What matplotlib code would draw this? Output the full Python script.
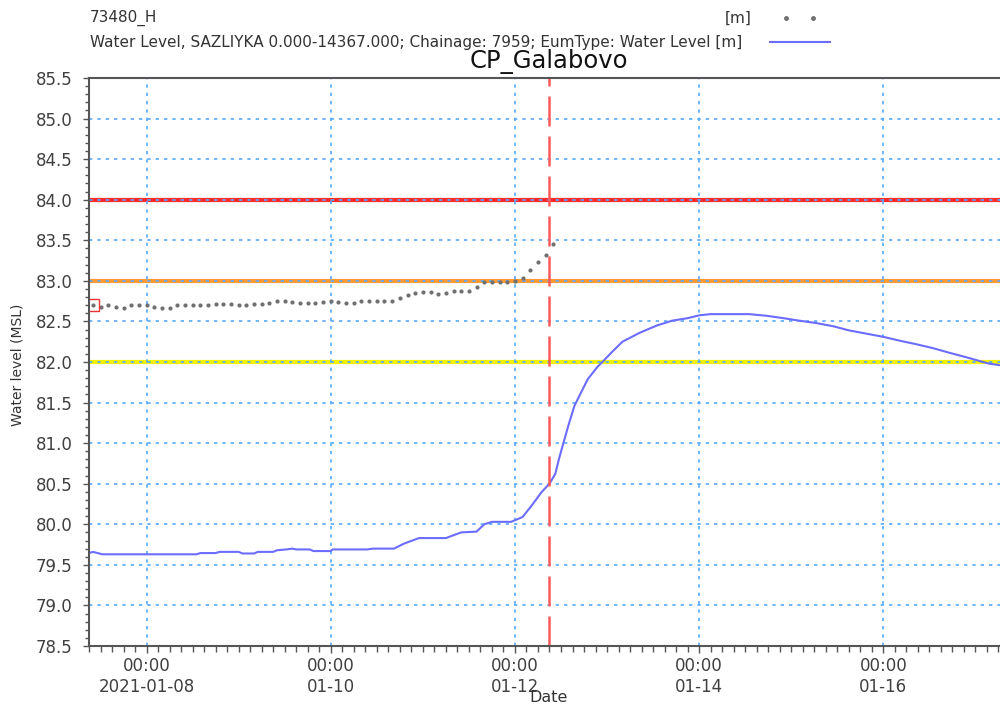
import pandas as pd
import matplotlib
matplotlib.use("Agg")
from matplotlib import pyplot as plt
from matplotlib.lines import Line2D
from matplotlib.ticker import MultipleLocator, FormatStrFormatter
import matplotlib.dates as mdates

plt.rcParams['font.family'] = ['DejaVu Sans']

# observed levels at 73480_H, one value every 2 hours
obs_start = "2021-01-07 10:00"
obs_level = [82.70, 82.68, 82.70, 82.68, 82.67, 82.70, 82.70, 82.70, 82.68, 82.67,
             82.67, 82.70, 82.70, 82.70, 82.70, 82.70, 82.72, 82.72, 82.72, 82.70,
             82.70, 82.71, 82.72, 82.73, 82.75, 82.75, 82.74, 82.73, 82.73, 82.73,
             82.74, 82.75, 82.74, 82.73, 82.73, 82.75, 82.75, 82.75, 82.75, 82.75,
             82.79, 82.82, 82.85, 82.86, 82.86, 82.84, 82.85, 82.87, 82.88, 82.88,
             82.93, 82.98, 82.98, 82.98, 82.98, 83.00, 83.04, 83.13, 83.23, 83.32,
             83.45]

# simulated water level, hours after 2021-01-08 00:00
sim_base = "2021-01-08 00:00"
sim_hours = [-15, -14, -11.5, 0, 13, 14, 18, 19, 24, 25,
             28, 29, 33, 34, 36.5, 38, 39, 42.5, 43.5, 48,
             48.5, 57.5, 59, 64.5, 67, 71, 78, 82, 86, 88,
             90, 95, 98, 100.5, 103, 105, 106.5, 107.5, 108.5, 110,
             111.5, 113.5, 115, 117.5, 119, 121, 124, 128.5, 133, 137,
             141, 144, 147, 152, 157, 161.5, 166, 170, 174.5, 179,
             183, 187.5, 192, 196.5, 200.5, 205, 209.5, 213.5, 216.5, 219.5,
             222.5]
sim_level = [79.645, 79.66, 79.63, 79.63, 79.63, 79.645, 79.645, 79.66, 79.66, 79.64,
             79.64, 79.66, 79.66, 79.68, 79.69, 79.70, 79.69, 79.69, 79.67, 79.67,
             79.69, 79.69, 79.70, 79.70, 79.76, 79.83, 79.83, 79.90, 79.91, 80.00,
             80.03, 80.03, 80.09, 80.24, 80.40, 80.50, 80.62, 80.81, 80.98, 81.23,
             81.46, 81.65, 81.79, 81.94, 82.01, 82.11, 82.25, 82.36, 82.45, 82.51,
             82.54, 82.575, 82.59, 82.59, 82.59, 82.57, 82.54, 82.51, 82.48, 82.44,
             82.39, 82.35, 82.31, 82.26, 82.22, 82.17, 82.11, 82.06, 82.02, 81.98,
             81.96]

alarm_levels = [84.0, 83.0, 82.0]
alarm_colors = ['#ff2a2a', '#ff9933', '#f2f200']
forecast_time = "2021-01-12 09:00"

tick_days = ["2021-01-08", "2021-01-10", "2021-01-12", "2021-01-14", "2021-01-16"]
tick_labels = ["00:00\n2021-01-08", "00:00\n01-10", "00:00\n01-12", "00:00\n01-14", "00:00\n01-16"]

obs_t = pd.date_range(obs_start, periods=len(obs_level), freq="2h")
sim_t = pd.Timestamp(sim_base) + pd.to_timedelta(sim_hours, unit="h")

fig = plt.figure(figsize=(10, 7.06), dpi=100)
ax = fig.add_axes([0.089, 0.085, 0.911, 0.8045])

for lvl, c in zip(alarm_levels, alarm_colors):
    ax.axhline(lvl, color=c, lw=3, zorder=1)

ax.plot(obs_t, obs_level, ls='none', marker='o', ms=3, color='#707070', mec='none', zorder=3)
ax.plot(obs_t[:1], obs_level[:1], ls='none', marker='s', ms=9, mfc='none', mec='#ee3333', mew=1, zorder=4)
ax.plot(sim_t, sim_level, color='#6c6cff', lw=1.5, zorder=3)
ax.axvline(pd.Timestamp(forecast_time), color='#ff5a5a', lw=1.8, ls=(0, (12, 4)), zorder=3)

ax.set_axisbelow(False)
ax.grid(True, which='major', color='#55aaff', ls=(0, (2, 3)), lw=1.2)

ax.set_xlim(pd.Timestamp("2021-01-07 09:00"), pd.Timestamp(sim_base) + pd.Timedelta(hours=222.4))
ax.set_ylim(78.5, 85.5)
ax.yaxis.set_major_locator(MultipleLocator(0.5))
ax.yaxis.set_minor_locator(MultipleLocator(0.1))
ax.yaxis.set_major_formatter(FormatStrFormatter('%.1f'))
ax.set_xticks(pd.to_datetime(tick_days), tick_labels)
ax.xaxis.set_minor_locator(mdates.HourLocator(byhour=range(0, 24, 3)))

ax.spines['right'].set_visible(False)
for s in ['top', 'left', 'bottom']:
    ax.spines[s].set_color('#555555')
    ax.spines[s].set_linewidth(1.5)
    ax.spines[s].set_zorder(5)

ax.tick_params(axis='y', which='major', direction='out', length=4, width=1, color='#555555',
               labelcolor='#404040', labelsize=12, pad=8)
ax.tick_params(axis='y', which='minor', direction='out', length=3, width=1, color='#555555')
ax.tick_params(axis='x', which='major', direction='out', length=5, width=1, color='#555555',
               labelcolor='#404040', labelsize=12, pad=3)
ax.tick_params(axis='x', which='minor', direction='out', length=4, width=1, color='#555555')

# legend block above the plot
y1 = 1 - 18 / 706
y2 = 1 - 42 / 706
fig.text(0.09, y1, "73480_H", fontsize=11, color='#333333', va='center')
fig.text(0.752, y1, "[m]", fontsize=11, color='#333333', va='center', ha='right')
fig.add_artist(Line2D([0.786, 0.813], [y1, y1], ls='none', marker='o', ms=2.5,
                      color='#707070', transform=fig.transFigure))
fig.text(0.09, y2, "Water Level, SAZLIYKA 0.000-14367.000; Chainage: 7959; EumType: Water Level [m]",
         fontsize=11, color='#333333', va='center')
fig.add_artist(Line2D([0.770, 0.830], [y2, y2], color='#6c6cff', lw=1.5, transform=fig.transFigure))

fig.text(0.549, 1 - 62 / 706, "CP_Galabovo", fontsize=17.5, color='#111111', ha='center', va='center')
fig.text(0.549, 1 - 698 / 706, "Date", fontsize=11.5, color='#333333', ha='center', va='center')
fig.text(0.018, 1 - 365 / 706, "Water level (MSL)", fontsize=10, color='#333333',
         rotation=90, ha='center', va='center')

fig.savefig('out.png', dpi=100)
